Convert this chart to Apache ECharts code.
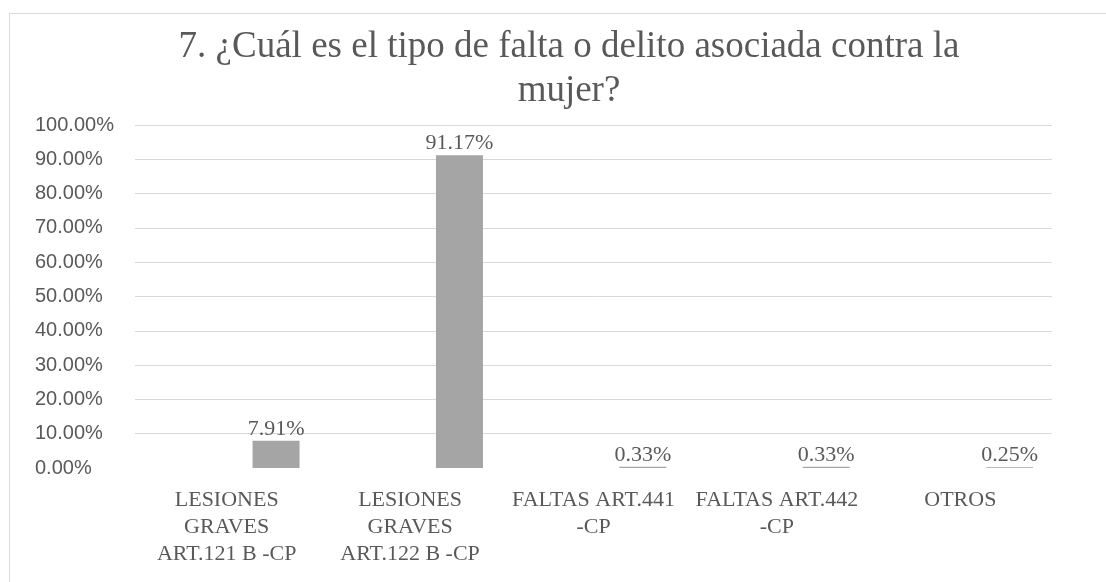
<!DOCTYPE html>
<html>
<head>
<meta charset="utf-8">
<title>Tipo de falta o delito</title>
<script src="https://cdn.jsdelivr.net/npm/echarts@6/dist/echarts.min.js"></script>
<style>
  html, body { margin: 0; padding: 0; background: #fff; }
  #chart { width: 1106px; height: 582px; }
</style>
</head>
<body>
<div id="chart"></div>
<script>
// datos
const titulo = '7. ¿Cuál es el tipo de falta o delito asociada contra la\nmujer?'
const categorias = [
  'LESIONES\nGRAVES\nART.121 B -CP',
  'LESIONES\nGRAVES\nART.122 B -CP',
  'FALTAS ART.441\n-CP',
  'FALTAS ART.442\n-CP',
  'OTROS',
]
const porcentajes = [7.91, 91.17, 0.33, 0.33, 0.25]
const serieVacia = [] // serie sin datos, como en el grafico de Excel (desplaza la barra)

const gris = '#595959'
const serif = '"Liberation Serif", "Times New Roman", serif'

const chart = echarts.init(document.getElementById('chart'))

chart.setOption({
  animation: false,
  backgroundColor: '#fff',
  title: {
    text: titulo,
    left: 564,
    top: 20,
    textAlign: 'center',
    textStyle: {
      fontFamily: serif,
      fontWeight: 'normal',
      fontSize: 37,
      lineHeight: 44,
      color: gris,
    },
  },
  graphic: [{
    type: 'rect',
    shape: { x: 9.5, y: 13.5, width: 1110, height: 600 },
    style: { fill: 'none', stroke: '#d9d9d9', lineWidth: 1 },
    silent: true,
  }],
  grid: {
    left: 135,
    right: 54,
    top: 125,
    bottom: 114,
  },
  xAxis: {
    type: 'category',
    data: categorias,
    axisLine: { show: false },
    axisTick: { show: false },
    axisLabel: {
      interval: 0,
      margin: 19,
      fontFamily: serif,
      fontSize: 22,
      lineHeight: 27,
      color: gris,
    },
  },
  yAxis: {
    type: 'value',
    min: 0,
    max: 100,
    interval: 10,
    axisLine: { show: false },
    axisTick: { show: false },
    axisLabel: {
      margin: 100,
      align: 'left',
      fontFamily: '"Liberation Sans", Arial, sans-serif',
      fontSize: 20,
      color: gris,
      formatter: (v) => v.toFixed(2) + '%',
    },
    splitLine: {
      showMinLine: false,
      lineStyle: { color: '#d9d9d9', width: 1 },
    },
  },
  series: [
    {
      type: 'bar',
      name: 'vacia',
      data: serieVacia,
      barWidth: 47,
    },
    {
      type: 'bar',
      name: 'porcentaje',
      data: porcentajes,
      barWidth: 47,
      barGap: '110%',
      itemStyle: { color: '#a5a5a5' },
      label: {
        show: true,
        position: 'top',
        distance: 1,
        fontFamily: serif,
        fontSize: 22,
        color: gris,
        formatter: (p) => p.value.toFixed(2) + '%',
      },
    },
  ],
})
</script>
</body>
</html>
